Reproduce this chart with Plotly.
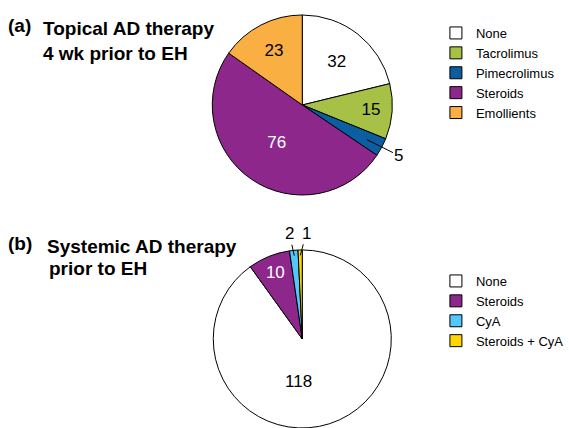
import numpy as np
import plotly.graph_objects as go

W, H = 569, 428

# ---- data ----
topical_labels = ["None", "Tacrolimus", "Pimecrolimus", "Steroids", "Emollients"]
topical_values = [32, 15, 5, 76, 23]
topical_colors = ["#FFFFFF", "#A6C145", "#0B5EA0", "#8E278C", "#FAAF42"]
topical_text_colors = ["black", "black", "black", "white", "black"]

systemic_labels = ["None", "Steroids", "CyA", "Steroids + CyA"]
systemic_values = [118, 10, 2, 1]
systemic_colors = ["#FFFFFF", "#8E278C", "#54C7FA", "#FFD600"]
systemic_text_colors = ["black", "white", "black", "black"]

# labels drawn outside (small slices) and the big slice labelled below centre
topical_outside = ["Pimecrolimus"]
systemic_outside = ["CyA", "Steroids + CyA"]
systemic_below = ["None"]

FONT = "Liberation Sans, Arial, sans-serif"

dom_a = dict(x=[0.369, 0.701], y=[0.5444, 0.965])
dom_b = dict(x=[0.369, 0.701], y=[0.0, 0.416])


def textpos(labels, hidden):
    return ["none" if l in hidden else "inside" for l in labels]


fig = go.Figure()
fig.add_trace(go.Pie(
    labels=topical_labels, values=topical_values, sort=False,
    direction="clockwise", rotation=0,
    marker=dict(colors=topical_colors, line=dict(color="black", width=1)),
    textinfo="value", textposition=textpos(topical_labels, topical_outside),
    insidetextorientation="horizontal",
    insidetextfont=dict(family=FONT, size=17, color=topical_text_colors),
    domain=dom_a, legend="legend", legendgroup="a", hoverinfo="label+value",
))
fig.add_trace(go.Pie(
    labels=systemic_labels, values=systemic_values, sort=False,
    direction="clockwise", rotation=0,
    marker=dict(colors=systemic_colors, line=dict(color="black", width=1)),
    textinfo="value",
    textposition=textpos(systemic_labels, systemic_outside + systemic_below),
    insidetextorientation="horizontal",
    insidetextfont=dict(family=FONT, size=17, color=systemic_text_colors),
    domain=dom_b, legend="legend2", legendgroup="b", hoverinfo="label+value",
))


def pie_geom(dom):
    x0, x1 = dom["x"][0] * W, dom["x"][1] * W
    y0, y1 = (1 - dom["y"][1]) * H, (1 - dom["y"][0]) * H
    cx, cy = (x0 + x1) / 2, (y0 + y1) / 2
    r = min(x1 - x0, y1 - y0) / 2
    return cx, cy, r


def outside_annotations(labels, values, outside, dom, offsets, rfrac):
    cx, cy, r = pie_geom(dom)
    total = float(sum(values))
    cum = np.cumsum([0] + list(values))
    anns = []
    for i, lab in enumerate(labels):
        if lab not in outside:
            continue
        mid = (cum[i] + values[i] / 2) / total * 2 * np.pi
        px = cx + rfrac * r * np.sin(mid)
        py = cy - rfrac * r * np.cos(mid)
        ax, ay = offsets[lab]
        anns.append(dict(
            x=px / W, y=1 - py / H, xref="paper", yref="paper",
            text=str(values[i]), showarrow=True, arrowhead=0,
            arrowwidth=1, arrowcolor="black", ax=ax, ay=ay, standoff=0,
            font=dict(family=FONT, size=17, color="black"),
        ))
    return anns


annotations = []
annotations += outside_annotations(topical_labels, topical_values, topical_outside,
                                   dom_a, {"Pimecrolimus": (32, 16)}, 0.82)
annotations += outside_annotations(systemic_labels, systemic_values, systemic_outside,
                                   dom_b, {"CyA": (-5, -22), "Steroids + CyA": (6, -22)}, 0.94)

# big slice label, placed below the centre of pie (b)
cxb, cyb, rb = pie_geom(dom_b)
for lab in systemic_below:
    v = systemic_values[systemic_labels.index(lab)]
    annotations.append(dict(
        x=(cxb - 4) / W, y=1 - (cyb + 0.48 * rb) / H, xref="paper", yref="paper",
        text=str(v), showarrow=False, xanchor="center", yanchor="middle",
        font=dict(family=FONT, size=17, color="black"),
    ))


def title(text, xpx, ypx, size=19):
    return dict(x=xpx / W, y=1 - ypx / H, xref="paper", yref="paper",
                xanchor="left", yanchor="middle", showarrow=False,
                text="<b>" + text + "</b>",
                font=dict(family=FONT, size=size, color="black"))


annotations += [
    title("(a)", 6, 26),
    title("Topical AD therapy", 41, 28),
    title("4 wk prior to EH", 41, 53),
    title("(b)", 6, 243),
    title("Systemic AD therapy", 45, 246),
    title("prior to EH", 47, 268),
]

leg_common = dict(font=dict(family=FONT, size=13, color="black"),
                  bgcolor="rgba(0,0,0,0)", itemwidth=30,
                  xanchor="left", yanchor="top", traceorder="normal")

fig.update_layout(
    width=W, height=H,
    margin=dict(l=0, r=0, t=0, b=0),
    paper_bgcolor="white", plot_bgcolor="white",
    showlegend=True,
    legend=dict(x=439 / W, y=1 - 18 / H, **leg_common),
    legend2=dict(x=439 / W, y=1 - 266 / H, **leg_common),
    annotations=annotations,
)

fig.write_html("out.html",
               config={"displayModeBar": False},
               post_script="document.body.style.margin='0px';document.body.style.overflow='hidden';")
